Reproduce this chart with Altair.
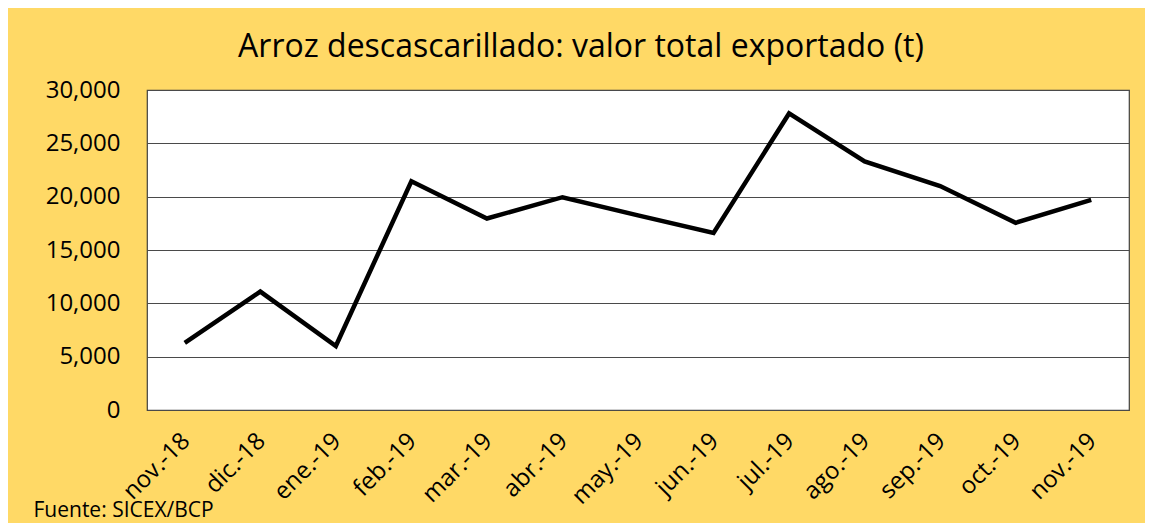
import altair as alt
import pandas as pd

months = ["nov.-18", "dic.-18", "ene.-19", "feb.-19", "mar.-19", "abr.-19", "may.-19",
          "jun.-19", "jul.-19", "ago.-19", "sep.-19", "oct.-19", "nov.-19"]
values = [6300, 11100, 6000, 21450, 17950, 19950, 18250, 16600, 27800, 23300, 21000, 17550, 19700]
y_ticks = [0, 5000, 10000, 15000, 20000, 25000, 30000]

df = pd.DataFrame({"mes": months, "valor": values})

FONT = "Open Sans"

chart = alt.Chart(df).mark_line(color="black", strokeWidth=4.5, strokeJoin="miter").encode(
    x=alt.X("mes:N", sort=None,
            axis=alt.Axis(title="Fuente: SICEX/BCP", labelAngle=-45, labelAlign="right",
                          labelBaseline="middle", labelPadding=27, labelOffset=1, ticks=False,
                          domain=False, grid=False, labelFontSize=24, labelFont=FONT,
                          labelColor="black", titleFont=FONT, titleFontSize=21,
                          titleFontWeight="normal", titleColor="black", titleX=-114,
                          titleY=106, titleAlign="left", titleAnchor="start",
                          titleBaseline="alphabetic")),
    y=alt.Y("valor:Q", scale=alt.Scale(domain=[0, 30000], nice=False),
            axis=alt.Axis(title=None, values=y_ticks, format=",d", ticks=False, domain=False,
                          grid=True, gridColor="#4a4a4a", gridWidth=1.2, labelFontSize=24,
                          labelFont=FONT, labelColor="black", labelPadding=27)),
).properties(
    width=982,
    height=320,
    title=alt.TitleParams("Arroz descascarillado: valor total exportado (t)", font=FONT,
                          fontSize=32, fontWeight="normal", color="black", anchor="middle",
                          frame="bounds", offset=14),
    background="#FFD966",
    padding={"left": 139, "top": 82, "right": 16, "bottom": 113},
    autosize=alt.AutoSizeParams(type="none"),
).configure_view(stroke="#404040", strokeWidth=1.2, fill="white")

chart.save("out.html", embed_options={"renderer": "svg", "actions": False})
